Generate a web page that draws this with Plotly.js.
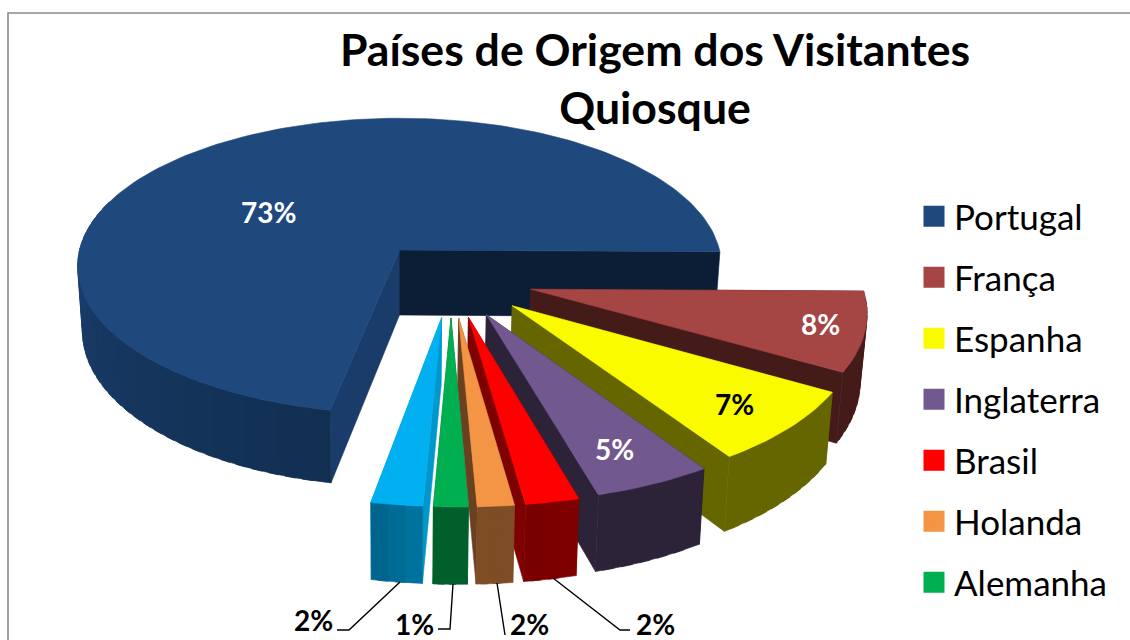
<!DOCTYPE html>
<html lang="pt">
<head>
<meta charset="utf-8">
<script src="https://cdn.plot.ly/plotly-3.0.1.min.js"></script>
<style>html,body{margin:0;padding:0;background:#fff}#chart{width:1130px;height:640px}</style>
</head>
<body>
<div id="chart"></div>
<script>
// ---- data ----
const categories = ["Portugal","França","Espanha","Inglaterra","Brasil","Holanda","Alemanha","Outros"];
const shares     = [72.6, 8.1, 7.4, 4.9, 2.2, 1.5, 1.4, 2.1];
const labels     = ["73%","8%","7%","5%","2%","2%","1%","2%"];
// ---- colours ----
const topColors   = ["#1f497d","#a54544","#fbfb00","#71588f","#ff0000","#f39545","#00b050","#00b0f0"];
const wallNear    = ["#1b4070","#451b1a","#666600","#2d2339","#7f0000","#7f4d25","#005f2b","#00729e"];
const wallFar     = ["#122f52","#451b1a","#666600","#2d2339","#760000","#7f4d25","#005f2b","#005f85"];
const edgeStart   = ["#1a3c6a","#451b1a","#666600","#2d2339","#7f0000","#694020","#005f2b","#0098cc"];
const edgeEnd     = ["#0c1e36","#451b1a","#666600","#2d2339","#7f0000","#694020","#005f2b","#0098cc"];
const labelColors = ["#fff","#fff","#000","#fff","#000","#000","#000","#000"];
const legendCount = 7;

// ---- 3-D pie projection ----
const cam = {cx:399.5, cy:250, a:320, b:146, k:0.108, h:65, shrink:0.015};
const explode = 0.25;
const firstAngle = 101.2;   // clockwise from the right-hand side: where the largest slice starts
const restStart  = 0.7;     // where the small slices start; perspective stretches them slightly
const rad = d => d*Math.PI/180;
function proj(u,v,z){
  const w = 1 - cam.k*v, s = 1 - cam.shrink*z;
  return [cam.cx + cam.a*u/w*s, cam.cy + (cam.b*v + cam.h*z)/w];
}
const restTotal = shares.slice(1).reduce((s,v)=>s+v,0);
const perShare  = (firstAngle-restStart)/restTotal;
let acc = restStart;
const slices = shares.map((v,i) => {
  if(i===0) return {a0:firstAngle,a1:360+restStart};
  const s={a0:acc,a1:acc+v*perShare}; acc=s.a1; return s;
});
slices.forEach(s => { s.bis=(s.a0+s.a1)/2; });
// pie centre is placed so that the largest slice's apex is at the camera origin
const c0 = {u:-explode*Math.cos(rad(slices[0].bis)), v:-explode*Math.sin(rad(slices[0].bis))};
slices.forEach(s => {
  s.u=c0.u+explode*Math.cos(rad(s.bis)); s.v=c0.v+explode*Math.sin(rad(s.bis));
  s.r=1+0.035*Math.max(0,Math.sin(rad(s.bis)));   // near slices look slightly longer in the picture
});
const rim = (s,ang) => [s.u+s.r*Math.cos(rad(ang)), s.v+s.r*Math.sin(rad(ang))];
const hex = c => [1,3,5].map(i=>parseInt(c.substr(i,2),16));
const mix = (p,q,t) => { const A=hex(p),B=hex(q); return "rgb("+A.map((x,i)=>Math.round(x+(B[i]-x)*t)).join(",")+")"; };

function poly(points,color,name,hover,lw){
  const xs=[],ys=[];
  points.forEach(p=>{const q=proj(p[0],p[1],p[2]); xs.push(q[0]); ys.push(q[1]);});
  xs.push(xs[0]); ys.push(ys[0]);
  return {type:"scatter",mode:"lines",x:xs,y:ys,fill:"toself",fillcolor:color,
          line:{color:color,width:lw||0.6},showlegend:false,name:name,
          hoverinfo:hover?"name":"skip",hoveron:"fills"};
}
const traces=[];
slices.forEach((s,i)=>{
  const name=categories[i];
  const A0=rim(s,s.a0), A1=rim(s,s.a1);
  traces.push(poly([[s.u,s.v,0],[A0[0],A0[1],0],[A0[0],A0[1],1],[s.u,s.v,1]],edgeStart[i],name));
  traces.push(poly([[s.u,s.v,0],[A1[0],A1[1],0],[A1[0],A1[1],1],[s.u,s.v,1]],edgeEnd[i],name));
  // outer wall, only the part that faces the viewer; each band overlaps the next to avoid seams
  const from=s.a0, to=i===0?Math.min(s.a1,200):s.a1;
  const n=Math.max(3,Math.ceil((to-from)/3));
  for(let j=0;j<n;j++){
    const p=from+(to-from)*j/n, q=from+(to-from)*Math.min(n,j+1.6)/n;
    const P=rim(s,p),Q=rim(s,q);
    const t=i===0?1-j/n:j/n;
    traces.push(poly([[P[0],P[1],0],[Q[0],Q[1],0],[Q[0],Q[1],1],[P[0],P[1],1]],mix(wallNear[i],wallFar[i],t),name));
  }
  const top=[[s.u,s.v,0]];
  const m=Math.ceil((s.a1-s.a0)/1.5);
  for(let j=0;j<=m;j++){const r=rim(s,s.a0+(s.a1-s.a0)*j/m); top.push([r[0],r[1],0]);}
  traces.push(poly(top,topColors[i],name+" "+labels[i],true));
});
// legend entries
categories.slice(0,legendCount).forEach((nm,i)=>{
  traces.push({type:"scatter",mode:"markers",x:[null],y:[null],name:nm,legendgroup:nm,showlegend:true,
    marker:{symbol:"square",size:16,color:topColors[i],line:{color:topColors[i],width:5}},hoverinfo:"skip"});
});

const FONT="Lato, Carlito, sans-serif";
const labelPos=[[268,212],[820,324],[734,404],[614,449],[655,624],[529,624],[414,624],[313,620]];
const annotations=labels.map((t,i)=>({xref:"x",yref:"y",x:labelPos[i][0],y:labelPos[i][1],text:t,showarrow:false,
  xanchor:"center",yanchor:"middle",font:{family:FONT,size:28,color:labelColors[i],weight:700}}));

const leader=d=>({type:"path",path:d,xref:"x",yref:"y",line:{color:"#000",width:1.4},layer:"above"});
const layout={
  width:1130,height:640,margin:{l:0,r:0,t:0,b:0},paper_bgcolor:"#fff",plot_bgcolor:"#fff",
  title:{text:"Países de Origem dos Visitantes<br>Quiosque",x:655/1130,xanchor:"center",y:0.8975,yanchor:"top",yref:"container",
         font:{family:FONT,size:44.6,color:"#000",weight:700}},
  xaxis:{range:[0,1130],visible:false,fixedrange:true},
  yaxis:{range:[640,0],visible:false,fixedrange:true},
  showlegend:true,
  legend:{x:914/1130,xanchor:"left",y:1-187/640,yanchor:"top",tracegroupgap:12.5,itemclick:false,itemdoubleclick:false,
          bgcolor:"rgba(0,0,0,0)",font:{family:FONT,size:35,color:"#000"}},
  annotations:annotations,
  shapes:[
    {type:"path",path:"M8 640 L8 13 L1130 13",xref:"x",yref:"y",line:{color:"#8a8a8a",width:1.6},layer:"below"},
    leader("M400 582 L349 630 L337 630"),
    leader("M453 584 L450 629 L438 629"),
    leader("M497 583 L505 635"),
    leader("M553 578 L620 630 L630 630")
  ]
};
Plotly.newPlot("chart",traces,layout,{displayModeBar:false,responsive:false});
</script>
</body>
</html>
